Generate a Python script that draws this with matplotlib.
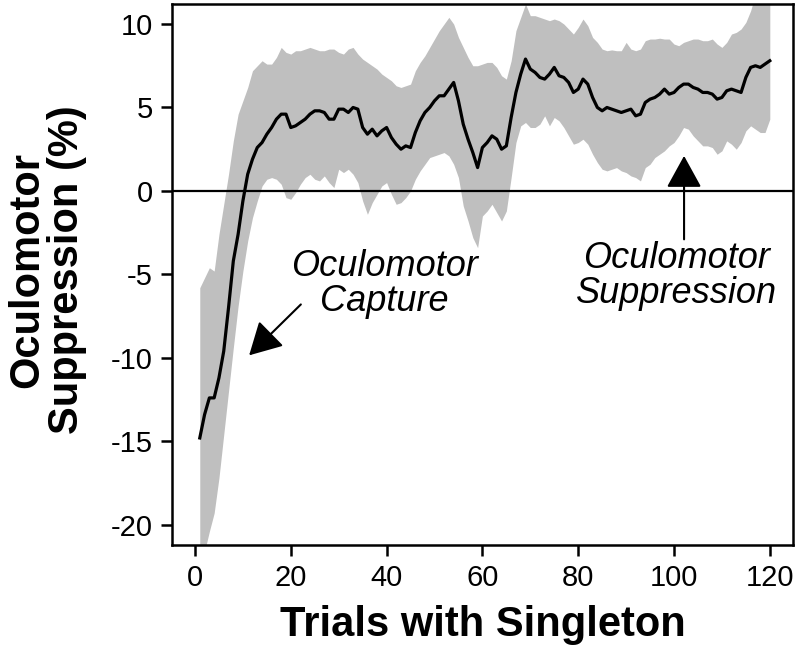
import numpy as np
import matplotlib.pyplot as plt
from matplotlib.patches import FancyArrowPatch

plt.rcParams['font.family'] = ['Liberation Sans', 'DejaVu Sans']
plt.rcParams['axes.unicode_minus'] = False

# trial number 1..120
trials = np.arange(1, 121)

# mean oculomotor suppression (%) per trial
mean_supp = [-14.8, -13.4, -12.4, -12.4, -11.2, -9.6, -7.0, -4.2, -2.6, -0.6,
             1.0, 1.9, 2.6, 2.9, 3.4, 3.8, 4.3, 4.6, 4.6, 3.8,
             3.9, 4.1, 4.3, 4.6, 4.8, 4.8, 4.7, 4.3, 4.3, 4.9,
             4.9, 4.7, 5.0, 4.9, 3.8, 3.4, 3.7, 3.3, 3.6, 3.8,
             3.2, 2.8, 2.5, 2.7, 2.6, 3.5, 4.2, 4.7, 5.0, 5.4,
             5.7, 5.7, 6.1, 6.5, 5.4, 4.0, 3.1, 2.3, 1.4, 2.6,
             2.9, 3.3, 3.1, 2.5, 2.7, 4.4, 5.9, 7.0, 7.9, 7.3,
             7.1, 6.8, 6.7, 7.0, 7.4, 6.9, 6.8, 6.5, 5.9, 6.1,
             6.7, 6.4, 5.6, 5.0, 4.8, 5.0, 4.9, 4.8, 4.7, 4.8,
             4.9, 4.5, 4.6, 5.3, 5.5, 5.6, 5.8, 6.1, 5.8, 5.9,
             6.2, 6.4, 6.4, 6.2, 6.1, 5.9, 5.9, 5.8, 5.5, 5.6,
             6.0, 6.1, 6.0, 5.9, 6.8, 7.4, 7.5, 7.4, 7.6, 7.8]

# upper edge of the shaded band
upper = [-5.8, -5.2, -4.6, -4.8, -2.6, -0.8, 1.0, 3.0, 4.6, 5.4,
         6.2, 7.2, 7.5, 7.8, 7.6, 7.6, 8.0, 8.6, 8.3, 8.2,
         8.4, 8.4, 8.5, 8.6, 8.5, 8.4, 8.4, 8.5, 8.5, 8.3,
         8.2, 8.5, 8.6, 8.2, 7.9, 7.7, 7.5, 7.3, 7.0, 6.8,
         6.6, 6.3, 6.2, 6.3, 6.4, 7.2, 7.7, 8.1, 8.6, 9.1,
         9.6, 10.0, 10.4, 10.0, 9.2, 8.6, 8.0, 7.5, 7.5, 7.6,
         7.7, 7.7, 7.4, 6.9, 6.7, 7.8, 9.6, 10.4, 11.2, 10.5,
         10.5, 10.4, 10.3, 10.2, 10.3, 10.2, 10.0, 9.7, 9.4, 9.8,
         10.3, 9.9, 9.2, 8.9, 8.5, 8.4, 8.45, 8.4, 8.4, 8.9,
         8.5, 8.4, 8.5, 9.0, 9.1, 9.1, 9.15, 9.1, 9.1, 8.8,
         8.7, 8.9, 9.0, 9.1, 9.1, 9.0, 9.0, 9.1, 8.8, 8.6,
         8.9, 9.4, 9.5, 9.7, 10.1, 10.8, 11.8, 12.5, 13.0, 13.0]

# lower edge of the shaded band
lower = [-23.5, -21.6, -20.4, -19.3, -17.2, -14.6, -12.0, -9.4, -6.9, -4.8,
         -3.0, -1.6, -0.6, 0.3, 0.7, 0.8, 0.7, 0.4, -0.4, -0.5,
         -0.1, 0.4, 0.8, 1.0, 0.7, 0.6, 0.9, 0.5, 0.2, 1.3,
         1.1, 1.3, 1.0, 0.5, -0.6, -1.4, -0.7, -0.2, 0.3, 0.5,
         -0.2, -0.8, -0.7, -0.4, 0.0, 0.7, 1.2, 1.6, 2.0, 2.1,
         2.2, 2.3, 2.1, 1.6, 0.8, -0.9, -1.8, -2.8, -3.4, -1.5,
         -1.2, -0.8, -1.3, -1.8, -1.2, 0.8, 2.9, 3.9, 4.1, 3.8,
         3.8, 4.0, 4.5, 3.9, 4.4, 4.2, 3.8, 3.3, 2.8, 2.9,
         3.1, 2.8, 2.2, 1.7, 1.3, 1.2, 1.3, 1.4, 1.2, 1.1,
         0.9, 0.8, 0.6, 1.4, 1.6, 2.0, 2.2, 2.4, 2.7, 2.9,
         3.3, 3.8, 3.7, 3.3, 3.0, 2.7, 2.7, 2.6, 2.2, 2.4,
         3.0, 2.8, 2.5, 2.9, 3.6, 3.9, 3.7, 3.5, 3.5, 4.3]

xticks = [0, 20, 40, 60, 80, 100, 120]
yticks = [-20, -15, -10, -5, 0, 5, 10]

fig = plt.figure(figsize=(8, 6.66), dpi=100)
ax = fig.add_axes([0.215, 0.182, 0.776, 0.812])

ax.fill_between(trials, lower, upper, color='#bfbfbf', linewidth=0)
ax.axhline(0, color='black', lw=1.6)
ax.plot(trials, mean_supp, color='black', lw=2.3)

ax.set_xlim(-4.8, 124.8)
ax.set_ylim(-21.2, 11.2)
ax.set_xticks(xticks)
ax.set_yticks(yticks)
ax.tick_params(direction='out', length=8, width=1.8, labelsize=21, pad=6)
for s in ax.spines.values():
    s.set_linewidth(1.8)

fig.text(0.603, 0.062, 'Trials with Singleton', fontsize=30,
         fontweight='bold', ha='center', va='center')
fig.text(0.059, 0.595, 'Oculomotor\nSuppression (%)', fontsize=30, fontweight='bold',
         rotation=90, ha='center', va='center', linespacing=1.0)

# annotations
ax.text(39.5, -5.6, 'Oculomotor\nCapture', fontsize=26, style='italic',
        ha='center', va='center', linespacing=1.0)
ax.add_patch(FancyArrowPatch((22.1, -6.8), (11.3, -9.85),
                             arrowstyle='-|>,head_length=1.0,head_width=0.55',
                             mutation_scale=20, color='black', lw=1.5,
                             shrinkA=0, shrinkB=0))
ax.text(100.6, -5.1, 'Oculomotor\nSuppression', fontsize=26, style='italic',
        ha='center', va='center', linespacing=1.0)
ax.add_patch(FancyArrowPatch((102.1, -2.9), (102.1, 2.1),
                             arrowstyle='-|>,head_length=1.0,head_width=0.55',
                             mutation_scale=20, color='black', lw=1.5,
                             shrinkA=0, shrinkB=0))

fig.savefig('out.png', dpi=100)
